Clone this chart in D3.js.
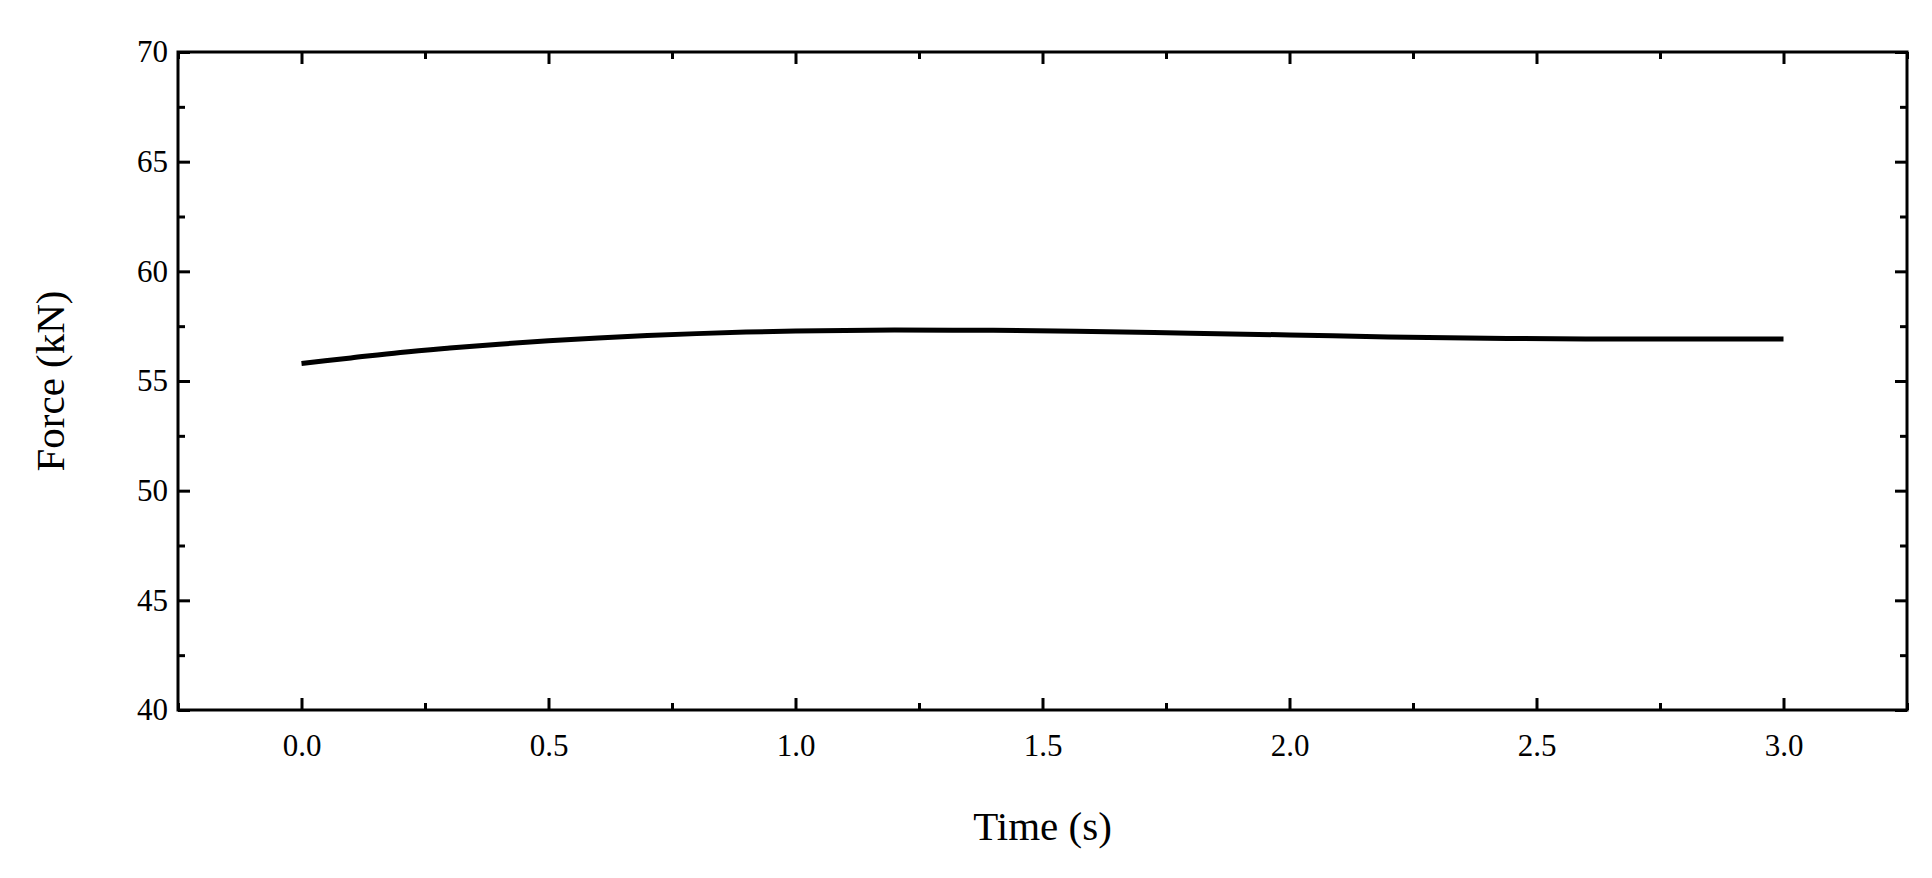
<!DOCTYPE html>
<html><head><meta charset="utf-8">
<script src="https://cdn.jsdelivr.net/npm/d3@7"></script>
<style>body{margin:0;background:#fff}</style></head>
<body><svg id="c" width="1932" height="878"></svg>
<script>
const times = [0,0.1,0.2,0.3,0.4,0.5,0.6,0.7,0.8,0.9,1.0,1.2,1.4,1.6,1.8,2.0,2.2,2.4,2.6,2.8,3.0];
const force = [55.8,56.05,56.3,56.5,56.68,56.83,56.96,57.07,57.16,57.23,57.28,57.32,57.31,57.26,57.18,57.1,57.01,56.95,56.92,56.92,56.92];
const xTicks = [0,0.5,1.0,1.5,2.0,2.5,3.0];
const yTicks = [40,45,50,55,60,65,70];
const L=178,R=1907,T=52,B=710;
const svg=d3.select("#c");
const x=d3.scaleLinear().domain([-0.25,3.25]).range([L,R]);
const y=d3.scaleLinear().domain([40,70]).range([B,T]);
const font="Liberation Serif, Times New Roman, serif";
const g=svg.append("g");
function ax(gen,tr){const a=g.append("g").attr("transform",tr).call(gen);a.select(".domain").remove();a.selectAll("line").attr("stroke","#000").attr("stroke-width",3);a.selectAll("text").attr("font-family",font).attr("font-size",31).attr("fill","#000");return a;}
const minorX=d3.range(-0.25,3.26,0.25).filter(v=>Math.abs(v*2-Math.round(v*2))>1e-6);
const minorY=d3.range(42.5,70,5);
ax(d3.axisBottom(x).tickValues(xTicks).tickFormat(d3.format(".1f")).tickSizeInner(-12).tickPadding(24),`translate(0,${B})`);
ax(d3.axisBottom(x).tickValues(minorX).tickFormat("").tickSizeInner(-7),`translate(0,${B})`);
ax(d3.axisTop(x).tickValues(xTicks).tickFormat("").tickSizeInner(-12),`translate(0,${T})`);
ax(d3.axisTop(x).tickValues(minorX).tickFormat("").tickSizeInner(-7),`translate(0,${T})`);
ax(d3.axisLeft(y).tickValues(yTicks).tickFormat(d3.format("d")).tickSizeInner(-12).tickPadding(10),`translate(${L},0)`);
ax(d3.axisLeft(y).tickValues(minorY).tickFormat("").tickSizeInner(-7),`translate(${L},0)`);
ax(d3.axisRight(y).tickValues(yTicks).tickFormat("").tickSizeInner(-12),`translate(${R},0)`);
ax(d3.axisRight(y).tickValues(minorY).tickFormat("").tickSizeInner(-7),`translate(${R},0)`);
g.append("rect").attr("x",L).attr("y",T).attr("width",R-L).attr("height",B-T).attr("fill","none").attr("stroke","#000").attr("stroke-width",3);
g.append("path").datum(times.map((t,i)=>[t,force[i]])).attr("fill","none").attr("stroke","#000").attr("stroke-width",5)
 .attr("d",d3.line().x(d=>x(d[0])).y(d=>y(d[1])).curve(d3.curveMonotoneX));
g.append("text").attr("x",(L+R)/2).attr("y",840).attr("text-anchor","middle").attr("font-family",font).attr("font-size",41).text("Time (s)");
g.append("text").attr("transform",`translate(64,${(T+B)/2}) rotate(-90)`).attr("text-anchor","middle").attr("font-family",font).attr("font-size",41).text("Force (kN)");
</script></body></html>
